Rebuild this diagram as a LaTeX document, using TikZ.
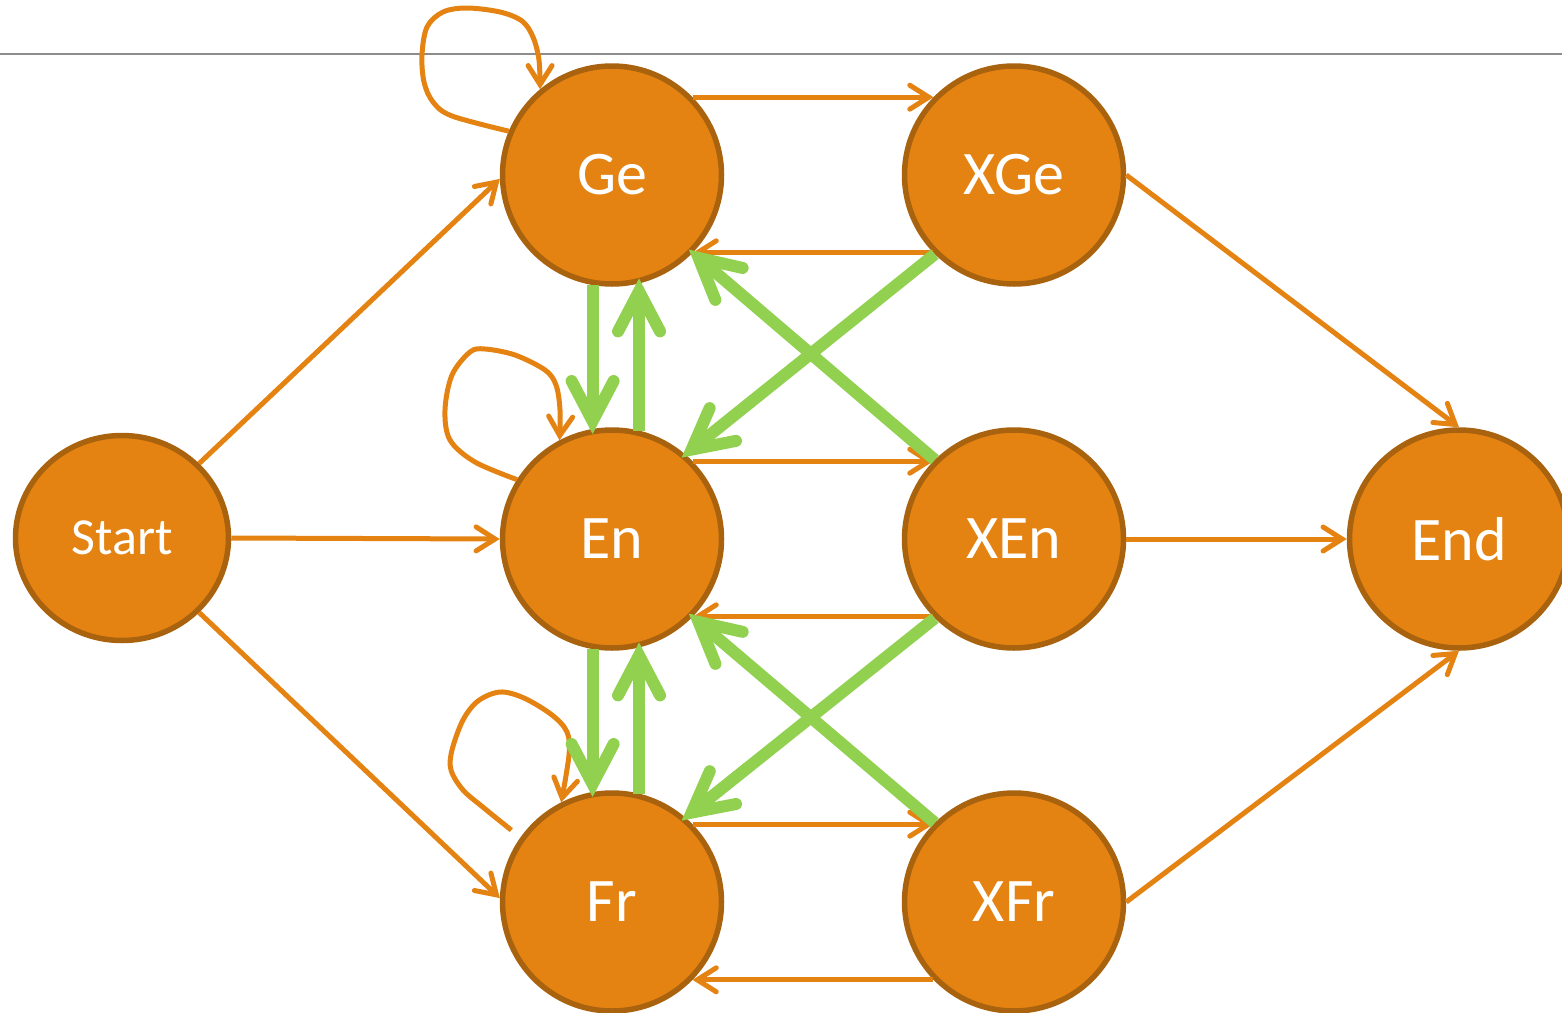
\documentclass[tikz,border=0pt]{standalone}
\usepackage{fontspec}
\setmainfont{Carlito}
\usetikzlibrary{arrows.meta,shapes.geometric}
\definecolor{nodeor}{HTML}{E48312}
\definecolor{nodebd}{HTML}{A9620E}
\definecolor{gr}{HTML}{92D050}
\definecolor{rule}{HTML}{8C8C8C}
\begin{document}
\begin{tikzpicture}[x=1pt,y=-1pt,
  st/.style={ellipse, draw=nodebd, fill=nodeor, line width=5.5pt, inner sep=0pt,
    minimum width=219pt, minimum height=218pt, text=white,
    font=\fontsize{62}{62}\selectfont},
  oline/.style={draw=nodeor, line width=5pt,
    -{Straight Barb[length=19pt,width=24pt,line cap=round]}},
  gline/.style={draw=gr, line width=12pt, shorten >=-5pt,
    -{Straight Barb[length=40pt,width=42pt,line cap=round]}},
  rulestyle/.style={draw=rule, line width=1.5pt}]
\useasboundingbox (0,0) rectangle (1562,1012);
\draw[rulestyle] (0,54) -- (1562,54);

\node[st, minimum width=213pt, minimum height=205pt, font=\fontsize{52}{52}\selectfont] (Start) at (122,538) {Start};
\node[st] (Ge) at (612,175) {Ge};
\node[st] (En) at (612,539) {En};
\node[st] (Fr) at (612,902) {Fr};
\node[st] (XGe) at (1014,175) {XGe};
\node[st] (XEn) at (1014,539) {XEn};
\node[st] (XFr) at (1014,902) {XFr};
\node[st] (End) at (1459,539) {End};

% self loops
\draw[oline] plot[smooth, tension=0.55] coordinates {(Ge.157) (452,116) (433,102) (424,82) (422,55) (427,27) (443,12) (467,8) (500,12) (522,21) (533,37) (539,60) (Ge.130)};
\draw[oline] plot[smooth, tension=0.55] coordinates {(En.148) (475,462) (450,440) (445,410) (452,375) (470,352) (485,349) (515,355) (545,370) (556,385) (560,410) (En.118)};
\draw[oline] plot[smooth, tension=0.55] coordinates {([xshift=-10pt,yshift=6pt]Fr.144) (484,808) (463,790) (451,770) (452,750) (463,720) (478,701) (500,692) (524,698) (552,715) (567,732) (569,755) (Fr.117)};

% orange edges
\draw[oline] (Start.44) -- (Ge.182);
\draw[oline] (Start.east) -- (En.west);
\draw[oline] (Start.-44) -- (Fr.178);
\draw[oline] (Ge.44) -- (XGe.136);
\draw[oline] (XGe.-136) -- (Ge.-44);
\draw[oline] (XGe.east) -- (End.north);
\draw[oline] (En.44) -- (XEn.136);
\draw[oline] (XEn.-136) -- (En.-44);
\draw[oline] (XEn.east) -- (End.west);
\draw[oline] (Fr.44) -- (XFr.136);
\draw[oline] (XFr.-136) -- (Fr.-44);
\draw[oline] (XFr.east) -- (End.south);

% green edges
\draw[gline] (Ge.-100) -- (En.100);
\draw[gline] (En.76) -- (Ge.-76);
\draw[gline] (XGe.225) -- (En.49);
\draw[gline] (XEn.135) -- (Ge.-44);
\draw[gline] (En.-100) -- (Fr.100);
\draw[gline] (Fr.76) -- (En.-76);
\draw[gline] (XEn.225) -- (Fr.49);
\draw[gline] (XFr.135) -- (En.-44);
\end{tikzpicture}
\end{document}
